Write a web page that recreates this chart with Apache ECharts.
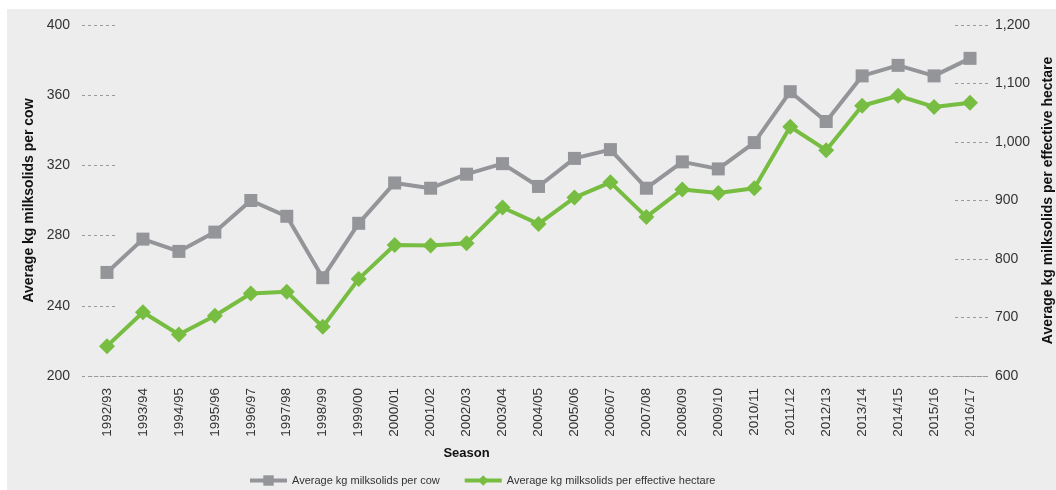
<!DOCTYPE html>
<html>
<head>
<meta charset="utf-8">
<script src="https://cdn.jsdelivr.net/npm/echarts@6/dist/echarts.min.js"></script>
<style>
  html, body { margin: 0; padding: 0; background: #fff; overflow: hidden; width: 1056px; height: 490px; }
  #bg { position: absolute; left: 7px; top: 9px; width: 1049px; height: 481px; background: #ededed; }
  #chart { position: absolute; left: 0; top: 0; width: 1056px; height: 490px; }
</style>
</head>
<body>
<div id="bg"></div>
<div id="chart"></div>
<script>
// seasons on the x axis
const seasons = [
  "1992/93", "1993/94", "1994/95", "1995/96", "1996/97", "1997/98", "1998/99",
  "1999/00", "2000/01", "2001/02", "2002/03", "2003/04", "2004/05", "2005/06",
  "2006/07", "2007/08", "2008/09", "2009/10", "2010/11", "2011/12", "2012/13",
  "2013/14", "2014/15", "2015/16", "2016/17"
];

// average kg milksolids per cow (left axis)
const perCow = [
  259, 278, 271, 282, 300, 291, 256, 287, 310, 307, 315, 321, 308, 324,
  329, 307, 322, 318, 333, 362, 345, 371, 377, 371, 381
];

// average kg milksolids per effective hectare (right axis)
const perHectare = [
  651, 709, 671, 703, 741, 744, 684, 766, 824, 823, 827, 888, 860, 905,
  931, 872, 919, 913, 921, 1026, 986, 1062, 1079, 1060, 1067
];

const seriesNames = [
  "Average kg milksolids per cow",
  "Average kg milksolids per effective hectare"
];

const GREY = "#949599";
const GREEN = "#77bd41";
const DASH = "#9a9a9a";
const FONT = "'Liberation Sans', Arial, sans-serif";

const chart = echarts.init(document.getElementById("chart"));

chart.setOption({
  animation: false,
  textStyle: { fontFamily: FONT },
  grid: { left: 89, right: 68, top: 25, bottom: 114, outerBoundsMode: "none", containLabel: false },
  legend: {
    left: 243,
    top: 470,
    itemWidth: 37,
    itemHeight: 13,
    itemGap: 23,
    lineStyle: { width: 4 },
    textStyle: { fontFamily: FONT, fontSize: 11, color: "#333" },
    data: seriesNames
  },
  xAxis: {
    type: "category",
    data: seasons,
    name: "Season",
    nameLocation: "middle",
    nameGap: 71,
    nameTextStyle: {
      fontWeight: "bold", fontSize: 13, color: "#111",
      padding: [0, 144, 0, 0]
    },
    axisLine: { lineStyle: { color: DASH, width: 1, type: [3, 3] } },
    axisTick: { show: false },
    axisLabel: { rotate: 90, margin: 12, fontSize: 13.5, color: "#333" }
  },
  yAxis: [
    {
      type: "value",
      min: 200,
      max: 400,
      interval: 40,
      offset: 7,
      name: "Average kg milksolids per cow",
      nameLocation: "middle",
      nameGap: 45,
      nameTextStyle: { fontWeight: "bold", fontSize: 14, color: "#111" },
      axisLine: { show: false },
      axisTick: { show: true, inside: true, length: 33, lineStyle: { color: DASH, type: [3, 3] } },
      axisLabel: { margin: 12, fontSize: 14, color: "#333" },
      splitLine: { show: false }
    },
    {
      type: "value",
      min: 600,
      max: 1200,
      interval: 100,
      position: "right",
      name: "Average kg milksolids per effective hectare",
      nameLocation: "middle",
      nameGap: 45,
      nameTextStyle: { fontWeight: "bold", fontSize: 14, color: "#111" },
      axisLine: { show: false },
      axisTick: { show: true, inside: true, length: 33, lineStyle: { color: DASH, type: [3, 3] } },
      axisLabel: {
        margin: 7, fontSize: 14, color: "#333",
        formatter: (v) => v.toLocaleString("en-US")
      },
      splitLine: { show: false }
    }
  ],
  series: [
    {
      name: seriesNames[0],
      type: "line",
      yAxisIndex: 0,
      data: perCow,
      symbol: "rect",
      symbolSize: 13,
      color: GREY,
      lineStyle: { width: 4, color: GREY },
      itemStyle: { color: GREY }
    },
    {
      name: seriesNames[1],
      type: "line",
      yAxisIndex: 1,
      data: perHectare,
      symbol: "diamond",
      symbolSize: 16,
      color: GREEN,
      lineStyle: { width: 4, color: GREEN },
      itemStyle: { color: GREEN }
    }
  ]
});
</script>
</body>
</html>
